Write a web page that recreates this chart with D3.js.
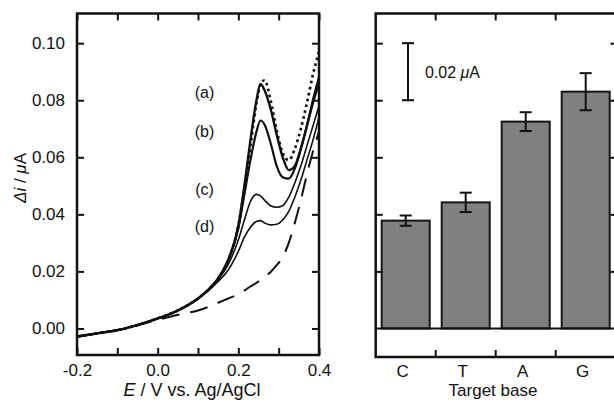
<!DOCTYPE html>
<html>
<head>
<meta charset="utf-8">
<script src="https://cdnjs.cloudflare.com/ajax/libs/d3/7.8.5/d3.min.js"></script>
<style>
  html, body { margin: 0; padding: 0; background: #fff; }
  svg { display: block; }
  text { font-family: "Liberation Sans", Arial, Helvetica, sans-serif; fill: #111; }
</style>
</head>
<body>
<div id="chart"></div>
<script>
// potential grid (V vs Ag/AgCl)
var potentials = [-0.2, -0.15, -0.1, -0.05, 0.0, 0.05, 0.1, 0.125, 0.15, 0.175,
  0.2, 0.215, 0.23, 0.245, 0.255, 0.265, 0.28, 0.295, 0.31, 0.325,
  0.34, 0.355, 0.37, 0.385, 0.4];

// delta i (uA) per trace
var traceDotted = [-0.0028, -0.0017, -0.0006, 0.0012, 0.0035, 0.0063, 0.0105, 0.0135, 0.0175, 0.024,
  0.036, 0.049, 0.064, 0.079, 0.0855, 0.087, 0.080, 0.0695, 0.0615, 0.059,
  0.063, 0.070, 0.079, 0.089, 0.097];
var traceA = [-0.0028, -0.0017, -0.0006, 0.0012, 0.0035, 0.0063, 0.0105, 0.0135, 0.0175, 0.024,
  0.036, 0.050, 0.066, 0.080, 0.0857, 0.0835, 0.077, 0.068, 0.060, 0.0555,
  0.057, 0.063, 0.071, 0.080, 0.088];
var traceB = [-0.0028, -0.0017, -0.0006, 0.0012, 0.0035, 0.0063, 0.0105, 0.0135, 0.0175, 0.024,
  0.035, 0.047, 0.059, 0.069, 0.0729, 0.0715, 0.065, 0.057, 0.053, 0.0525,
  0.056, 0.063, 0.071, 0.079, 0.086];
var traceC = [-0.0028, -0.0017, -0.0006, 0.0012, 0.0035, 0.0063, 0.0105, 0.0134, 0.0172, 0.0225,
  0.031, 0.038, 0.0445, 0.047, 0.0465, 0.045, 0.043, 0.0425, 0.043, 0.046,
  0.051, 0.057, 0.064, 0.071, 0.078];
var traceD = [-0.0028, -0.0017, -0.0006, 0.0012, 0.0035, 0.0063, 0.0104, 0.0132, 0.0165, 0.0205,
  0.027, 0.032, 0.0355, 0.0375, 0.0378, 0.037, 0.0363, 0.0365, 0.038, 0.041,
  0.046, 0.052, 0.059, 0.066, 0.074];
var traceDashed = [-0.003, -0.0018, -0.0006, 0.0011, 0.003, 0.0048, 0.0063, 0.0075, 0.009, 0.0105,
  0.012, 0.0133, 0.0147, 0.016, 0.017, 0.018, 0.0198, 0.0222, 0.025, 0.030,
  0.037, 0.045, 0.054, 0.062, 0.069];

var traceLabels = ['(a)', '(b)', '(c)', '(d)'];
var traceLabelValues = [0.0825, 0.069, 0.0487, 0.0354];

var xTicks = [-0.2, -0.1, 0.0, 0.1, 0.2, 0.3, 0.4];
var xTickLabels = ['-0.2', '', '0.0', '', '0.2', '', '0.4'];
var yTicks = [0.00, 0.02, 0.04, 0.06, 0.08, 0.10];

// bar chart
var bases = ['C', 'T', 'A', 'G'];
var baseValues = [0.0378, 0.0442, 0.0725, 0.0830];
var baseErrors = [0.0018, 0.0034, 0.0033, 0.0065];
var barTicks = [0.02, 0.04, 0.06, 0.08, 0.10];
var scaleBarSpan = [0.08, 0.10];

(function() {
  'use strict';

  var
    W = 614,
    H = 402,
    TICK = 7,
    FONT = 17,

    svg = d3.select('#chart')
            .append('svg')
            .attr('width', W)
            .attr('height', H);

  var
    xL = d3.scaleLinear().domain([-0.2, 0.4]).range([77, 319]),
    yL = d3.scaleLinear().domain([-0.0093, 0.1104]).range([355, 13.5]),
    xR = d3.scaleBand().domain(bases).range([375.7, 615.7]).paddingInner(0.2).paddingOuter(0.1),
    yR = d3.scaleLinear().domain([-0.0100, 0.1104]).range([357, 13.5]);

  function frame(g, x0, x1, y0, y1) {
    g.append('rect')
      .attr('x', x0).attr('y', y1)
      .attr('width', x1 - x0).attr('height', y0 - y1)
      .attr('fill', 'none')
      .attr('stroke', '#111')
      .attr('stroke-width', 2.5);
  }

  // ---- left panel: voltammograms ----
  var left = svg.append('g'),
    lx0 = xL.range()[0], lx1 = xL.range()[1],
    ly0 = yL.range()[0], ly1 = yL.range()[1];

  var line = d3.line()
    .x(function(d) { return xL(d[0]); })
    .y(function(d) { return yL(d[1]); })
    .curve(d3.curveMonotoneX);

  var traces = [
    {values: traceDashed, width: 2, dash: '18,11'},
    {values: traceD, width: 1.6, dash: null},
    {values: traceC, width: 1.6, dash: null},
    {values: traceB, width: 2.2, dash: null},
    {values: traceA, width: 2.4, dash: null},
    {values: traceDotted, width: 2.7, dash: '2.6,3.4'}
  ];

  left.append('defs').append('clipPath').attr('id', 'clipL')
    .append('rect')
    .attr('x', lx0).attr('y', ly1)
    .attr('width', lx1 - lx0).attr('height', ly0 - ly1);

  left.append('g')
    .attr('clip-path', 'url(#clipL)')
    .selectAll('path')
    .data(traces)
    .enter()
    .append('path')
    .attr('fill', 'none')
    .attr('stroke', '#111')
    .attr('stroke-width', function(d) { return d.width; })
    .attr('stroke-dasharray', function(d) { return d.dash; })
    .attr('d', function(d) {
      return line(potentials.map(function(p, i) { return [p, d.values[i]]; }));
    });

  left.selectAll('.trace-label')
    .data(traceLabels)
    .enter()
    .append('text')
    .attr('x', xL(0.116))
    .attr('y', function(d, i) { return yL(traceLabelValues[i]) + 5; })
    .attr('text-anchor', 'middle')
    .attr('font-size', 16)
    .text(function(d) { return d; });

  frame(left, lx0, lx1, ly0, ly1);

  // inward ticks, all four sides
  left.append('g')
    .attr('transform', 'translate(0,' + ly0 + ')')
    .call(d3.axisBottom(xL).tickValues(xTicks).tickSizeInner(-TICK).tickSizeOuter(0)
      .tickFormat(function(d, i) { return xTickLabels[i]; }))
    .call(function(g) { g.select('.domain').remove(); });
  left.append('g')
    .attr('transform', 'translate(0,' + ly1 + ')')
    .call(d3.axisTop(xL).tickValues(xTicks).tickSizeInner(-TICK).tickSizeOuter(0).tickFormat(''))
    .call(function(g) { g.select('.domain').remove(); });
  left.append('g')
    .attr('transform', 'translate(' + lx0 + ',0)')
    .call(d3.axisLeft(yL).tickValues(yTicks).tickSizeInner(-TICK).tickSizeOuter(0)
      .tickFormat(d3.format('.2f')))
    .call(function(g) { g.select('.domain').remove(); });
  left.append('g')
    .attr('transform', 'translate(' + lx1 + ',0)')
    .call(d3.axisRight(yL).tickValues(yTicks).tickSizeInner(-TICK).tickSizeOuter(0).tickFormat(''))
    .call(function(g) { g.select('.domain').remove(); });

  // ---- right panel: bars ----
  var right = svg.append('g'),
    rx0 = xR.range()[0], rx1 = 617.5,
    ry0 = yR.range()[0], ry1 = yR.range()[1],
    step = xR.step(),
    bounds = bases.slice(1).map(function(b) { return xR(b) - (step - xR.bandwidth()) / 2; });

  right.selectAll('.bar')
    .data(bases)
    .enter()
    .append('rect')
    .attr('class', 'bar')
    .attr('x', function(d) { return xR(d); })
    .attr('width', xR.bandwidth())
    .attr('y', function(d, i) { return yR(baseValues[i]); })
    .attr('height', function(d, i) { return yR(0) - yR(baseValues[i]); })
    .attr('fill', '#808080')
    .attr('stroke', '#151515')
    .attr('stroke-width', 2);

  var err = right.selectAll('.err')
    .data(bases)
    .enter()
    .append('g')
    .attr('stroke', '#111')
    .attr('stroke-width', 2);

  err.append('line')
    .attr('x1', function(d) { return xR(d) + xR.bandwidth() / 2; })
    .attr('x2', function(d) { return xR(d) + xR.bandwidth() / 2; })
    .attr('y1', function(d, i) { return yR(baseValues[i] + baseErrors[i]); })
    .attr('y2', function(d, i) { return yR(baseValues[i] - baseErrors[i]); });
  [1, -1].forEach(function(s) {
    err.append('line')
      .attr('x1', function(d) { return xR(d) + xR.bandwidth() / 2 - 6; })
      .attr('x2', function(d) { return xR(d) + xR.bandwidth() / 2 + 6; })
      .attr('y1', function(d, i) { return yR(baseValues[i] + s * baseErrors[i]); })
      .attr('y2', function(d, i) { return yR(baseValues[i] + s * baseErrors[i]); });
  });

  // zero line
  right.append('line')
    .attr('x1', rx0).attr('x2', rx1)
    .attr('y1', yR(0)).attr('y2', yR(0))
    .attr('stroke', '#111')
    .attr('stroke-width', 2);

  frame(right, rx0, rx1, ry0, ry1);

  right.append('g')
    .attr('stroke', '#111')
    .attr('stroke-width', 2)
    .selectAll('line')
    .data(bounds.concat(bounds))
    .enter()
    .append('line')
    .attr('x1', function(d) { return d; })
    .attr('x2', function(d) { return d; })
    .attr('y1', function(d, i) { return i < bounds.length ? ry0 : ry1; })
    .attr('y2', function(d, i) { return i < bounds.length ? ry0 - TICK : ry1 + TICK; });

  right.append('g')
    .attr('transform', 'translate(' + rx0 + ',0)')
    .call(d3.axisLeft(yR).tickValues(barTicks).tickSizeInner(-TICK).tickSizeOuter(0).tickFormat(''))
    .call(function(g) { g.select('.domain').remove(); });
  right.append('g')
    .attr('transform', 'translate(' + rx1 + ',0)')
    .call(d3.axisRight(yR).tickValues(barTicks).tickSizeInner(-TICK).tickSizeOuter(0).tickFormat(''))
    .call(function(g) { g.select('.domain').remove(); });

  right.selectAll('.base-label')
    .data(bases)
    .enter()
    .append('text')
    .attr('x', function(d) { return xR(d) + xR.bandwidth() / 2 - 3; })
    .attr('y', 377)
    .attr('text-anchor', 'middle')
    .attr('font-size', FONT)
    .text(function(d) { return d; });

  // scale bar
  var sb = right.append('g').attr('stroke', '#111').attr('stroke-width', 2),
    sbx = 408;
  sb.append('line').attr('x1', sbx).attr('x2', sbx)
    .attr('y1', yR(scaleBarSpan[1])).attr('y2', yR(scaleBarSpan[0]));
  scaleBarSpan.forEach(function(v) {
    sb.append('line').attr('x1', sbx - 6).attr('x2', sbx + 6)
      .attr('y1', yR(v)).attr('y2', yR(v));
  });
  var sbt = right.append('text')
    .attr('x', 425)
    .attr('y', (yR(scaleBarSpan[0]) + yR(scaleBarSpan[1])) / 2 + 6)
    .attr('font-size', 16);
  sbt.append('tspan').text('0.02 ');
  sbt.append('tspan').attr('font-style', 'italic').text('\u03bc');
  sbt.append('tspan').text('A');

  // ---- tick label styling ----
  svg.selectAll('.tick line').attr('stroke', '#111').attr('stroke-width', 2);
  svg.selectAll('.tick text')
    .attr('font-size', FONT)
    .attr('font-family', '"Liberation Sans", Arial, sans-serif')
    .attr('fill', '#111');
  left.selectAll('.tick text').each(function() {
    var t = d3.select(this);
    if (t.attr('dy') === '0.71em') { t.attr('y', 9); }
    else { t.attr('x', -12); }
  });

  // axis titles
  var xt = svg.append('text')
    .attr('x', 192)
    .attr('y', 396)
    .attr('text-anchor', 'middle')
    .attr('font-size', 18);
  xt.append('tspan').attr('font-style', 'italic').text('E');
  xt.append('tspan').text(' / V vs. Ag/AgCl');

  var yt = svg.append('text')
    .attr('transform', 'translate(26,178) rotate(-90)')
    .attr('text-anchor', 'middle')
    .attr('font-size', FONT);
  yt.append('tspan').attr('font-style', 'italic').text('\u0394i');
  yt.append('tspan').text(' / ');
  yt.append('tspan').attr('font-style', 'italic').text('\u03bc');
  yt.append('tspan').text('A');

  svg.append('text')
    .attr('x', 493)
    .attr('y', 396)
    .attr('text-anchor', 'middle')
    .attr('font-size', FONT)
    .text('Target base');
})();
</script>
</body>
</html>
